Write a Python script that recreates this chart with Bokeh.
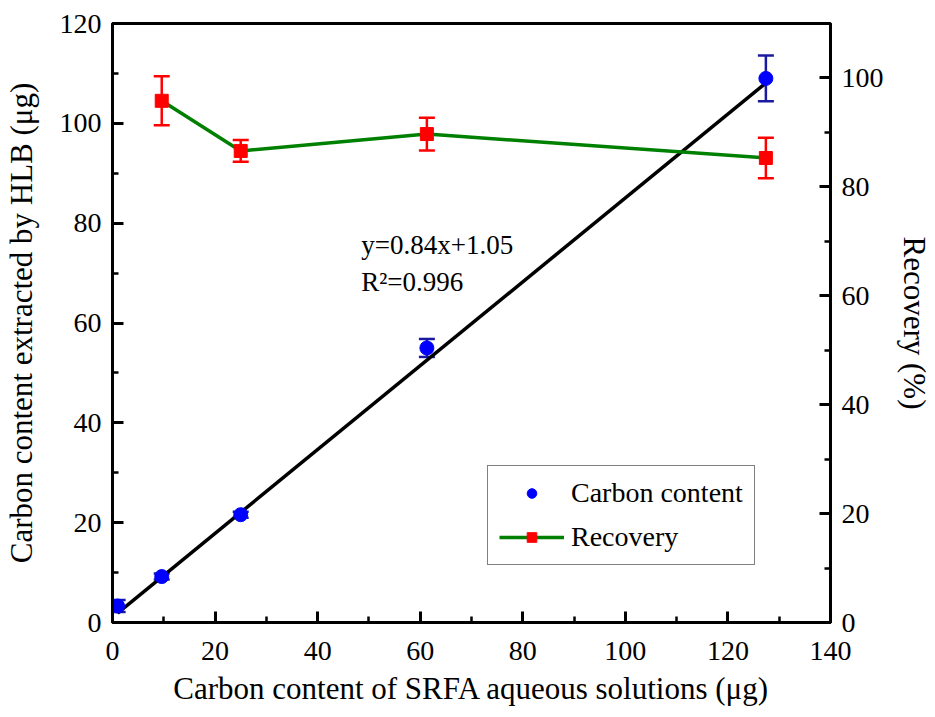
from bokeh.plotting import figure
from bokeh.models import (Range1d, LinearAxis, Whisker, ColumnDataSource, Legend,
                          LegendItem, Label, TeeHead, FixedTicker)
from bokeh.embed import file_html
from bokeh.resources import INLINE

# ---- data ----
carbon_x = [1.0, 9.6, 25.0, 61.3, 127.4]
carbon_y = [3.3, 9.2, 21.6, 55.0, 109.0]
carbon_err = [1.2, 0.6, 0.6, 1.8, 4.6]

rec_x = [9.6, 25.0, 61.3, 127.4]
rec_y = [95.8, 86.6, 89.7, 85.3]
rec_err = [4.5, 2.0, 3.0, 3.7]

slope, intercept = 0.84, 1.05
fit_x = [min(carbon_x), max(carbon_x)]
fit_y = [slope * v + intercept for v in fit_x]

x_ticks = [0, 20, 40, 60, 80, 100, 120, 140]
x_minor = [10, 30, 50, 70, 90, 110, 130]
yl_ticks = [0, 20, 40, 60, 80, 100, 120]
yl_minor = [10, 30, 50, 70, 90, 110]
yr_ticks = [0, 20, 40, 60, 80, 100]
yr_minor = [10, 30, 50, 70, 90]

FONT = "'Liberation Serif', 'Times New Roman', serif"

p = figure(frame_width=718, frame_height=599, x_range=Range1d(0, 140), y_range=Range1d(0, 120),
           output_backend="svg", toolbar_location=None,
           min_border_left=112, min_border_right=20, min_border_top=23, min_border_bottom=20)
p.extra_y_ranges = {"rec": Range1d(0, 110)}
p.grid.visible = False
p.outline_line_color = "black"
p.outline_line_width = 3
p.background_fill_color = "white"
p.border_fill_color = "white"

right_axis = LinearAxis(y_range_name="rec", axis_label="Recovery (%)")
p.add_layout(right_axis, "right")

p.xaxis.ticker = FixedTicker(ticks=x_ticks, minor_ticks=x_minor)
p.yaxis[0].ticker = FixedTicker(ticks=yl_ticks, minor_ticks=yl_minor)
right_axis.ticker = FixedTicker(ticks=yr_ticks, minor_ticks=yr_minor)

p.xaxis.axis_label = "Carbon content of SRFA aqueous solutions (\u03bcg)"
p.yaxis[0].axis_label = "Carbon content extracted by HLB (\u03bcg)"

for ax in [p.xaxis[0], p.yaxis[0], right_axis]:
    ax.axis_line_width = 3
    ax.axis_line_color = "black"
    ax.major_tick_in = 11
    ax.major_tick_out = 0
    ax.minor_tick_in = 6
    ax.minor_tick_out = 0
    ax.major_tick_line_width = 3
    ax.minor_tick_line_width = 2.5
    ax.major_tick_line_color = "black"
    ax.minor_tick_line_color = "black"
    ax.major_label_text_font = FONT
    ax.major_label_text_font_size = "28px"
    ax.major_label_text_color = "black"
    ax.axis_label_text_font = FONT
    ax.axis_label_text_font_size = "31px"
    ax.axis_label_text_font_style = "normal"
    ax.axis_label_text_color = "black"
    ax.major_label_standoff = 11

p.xaxis.major_label_standoff = 19
p.xaxis.axis_label_standoff = 8
p.yaxis[0].axis_label_standoff = 18
right_axis.axis_label_standoff = 10

# fit line
p.line(fit_x, fit_y, line_color="black", line_width=3.5)

# carbon content error bars and points
csrc = ColumnDataSource(dict(x=carbon_x, y=carbon_y,
                             upper=[a + b for a, b in zip(carbon_y, carbon_err)],
                             lower=[a - b for a, b in zip(carbon_y, carbon_err)]))
blue_err = "#1a1aa0"
p.add_layout(Whisker(source=csrc, base="x", upper="upper", lower="lower",
                     line_color=blue_err, line_width=2.5,
                     upper_head=TeeHead(size=16, line_color=blue_err, line_width=2.5),
                     lower_head=TeeHead(size=16, line_color=blue_err, line_width=2.5)))
circ = p.scatter("x", "y", source=csrc, marker="circle", size=14, color="#0000ff")

# recovery
rsrc = ColumnDataSource(dict(x=rec_x, y=rec_y,
                             upper=[a + b for a, b in zip(rec_y, rec_err)],
                             lower=[a - b for a, b in zip(rec_y, rec_err)]))
gline = p.line("x", "y", source=rsrc, line_color="#008000", line_width=3.5, y_range_name="rec")
p.add_layout(Whisker(source=rsrc, base="x", upper="upper", lower="lower", y_range_name="rec",
                     line_color="#ff0000", line_width=2.5,
                     upper_head=TeeHead(size=16, line_color="#ff0000", line_width=2.5),
                     lower_head=TeeHead(size=16, line_color="#ff0000", line_width=2.5)))
sq = p.scatter("x", "y", source=rsrc, marker="square", size=13, color="#ff0000", y_range_name="rec")

# equation
p.add_layout(Label(x=48.5, y=75.6, text="y=0.84x+1.05", text_font=FONT,
                   text_font_size="27px", text_baseline="middle", text_color="black"))
p.add_layout(Label(x=48.5, y=68.2, text="R\u00b2=0.996", text_font=FONT,
                   text_font_size="27px", text_baseline="middle", text_color="black"))

legend = Legend(items=[LegendItem(label="Carbon content", renderers=[circ]),
                       LegendItem(label="Recovery", renderers=[gline, sq])],
                location=(375, 57))
legend.border_line_color = "black"
legend.border_line_width = 1.5
legend.label_text_font = FONT
legend.label_text_font_size = "28px"
legend.label_text_color = "black"
legend.glyph_width = 65
legend.glyph_height = 24
legend.label_height = 28
legend.label_standoff = 7
legend.padding = 11
legend.spacing = 12
legend.margin = 0
p.add_layout(legend)

open("out.html", "w").write(file_html(p, INLINE))
